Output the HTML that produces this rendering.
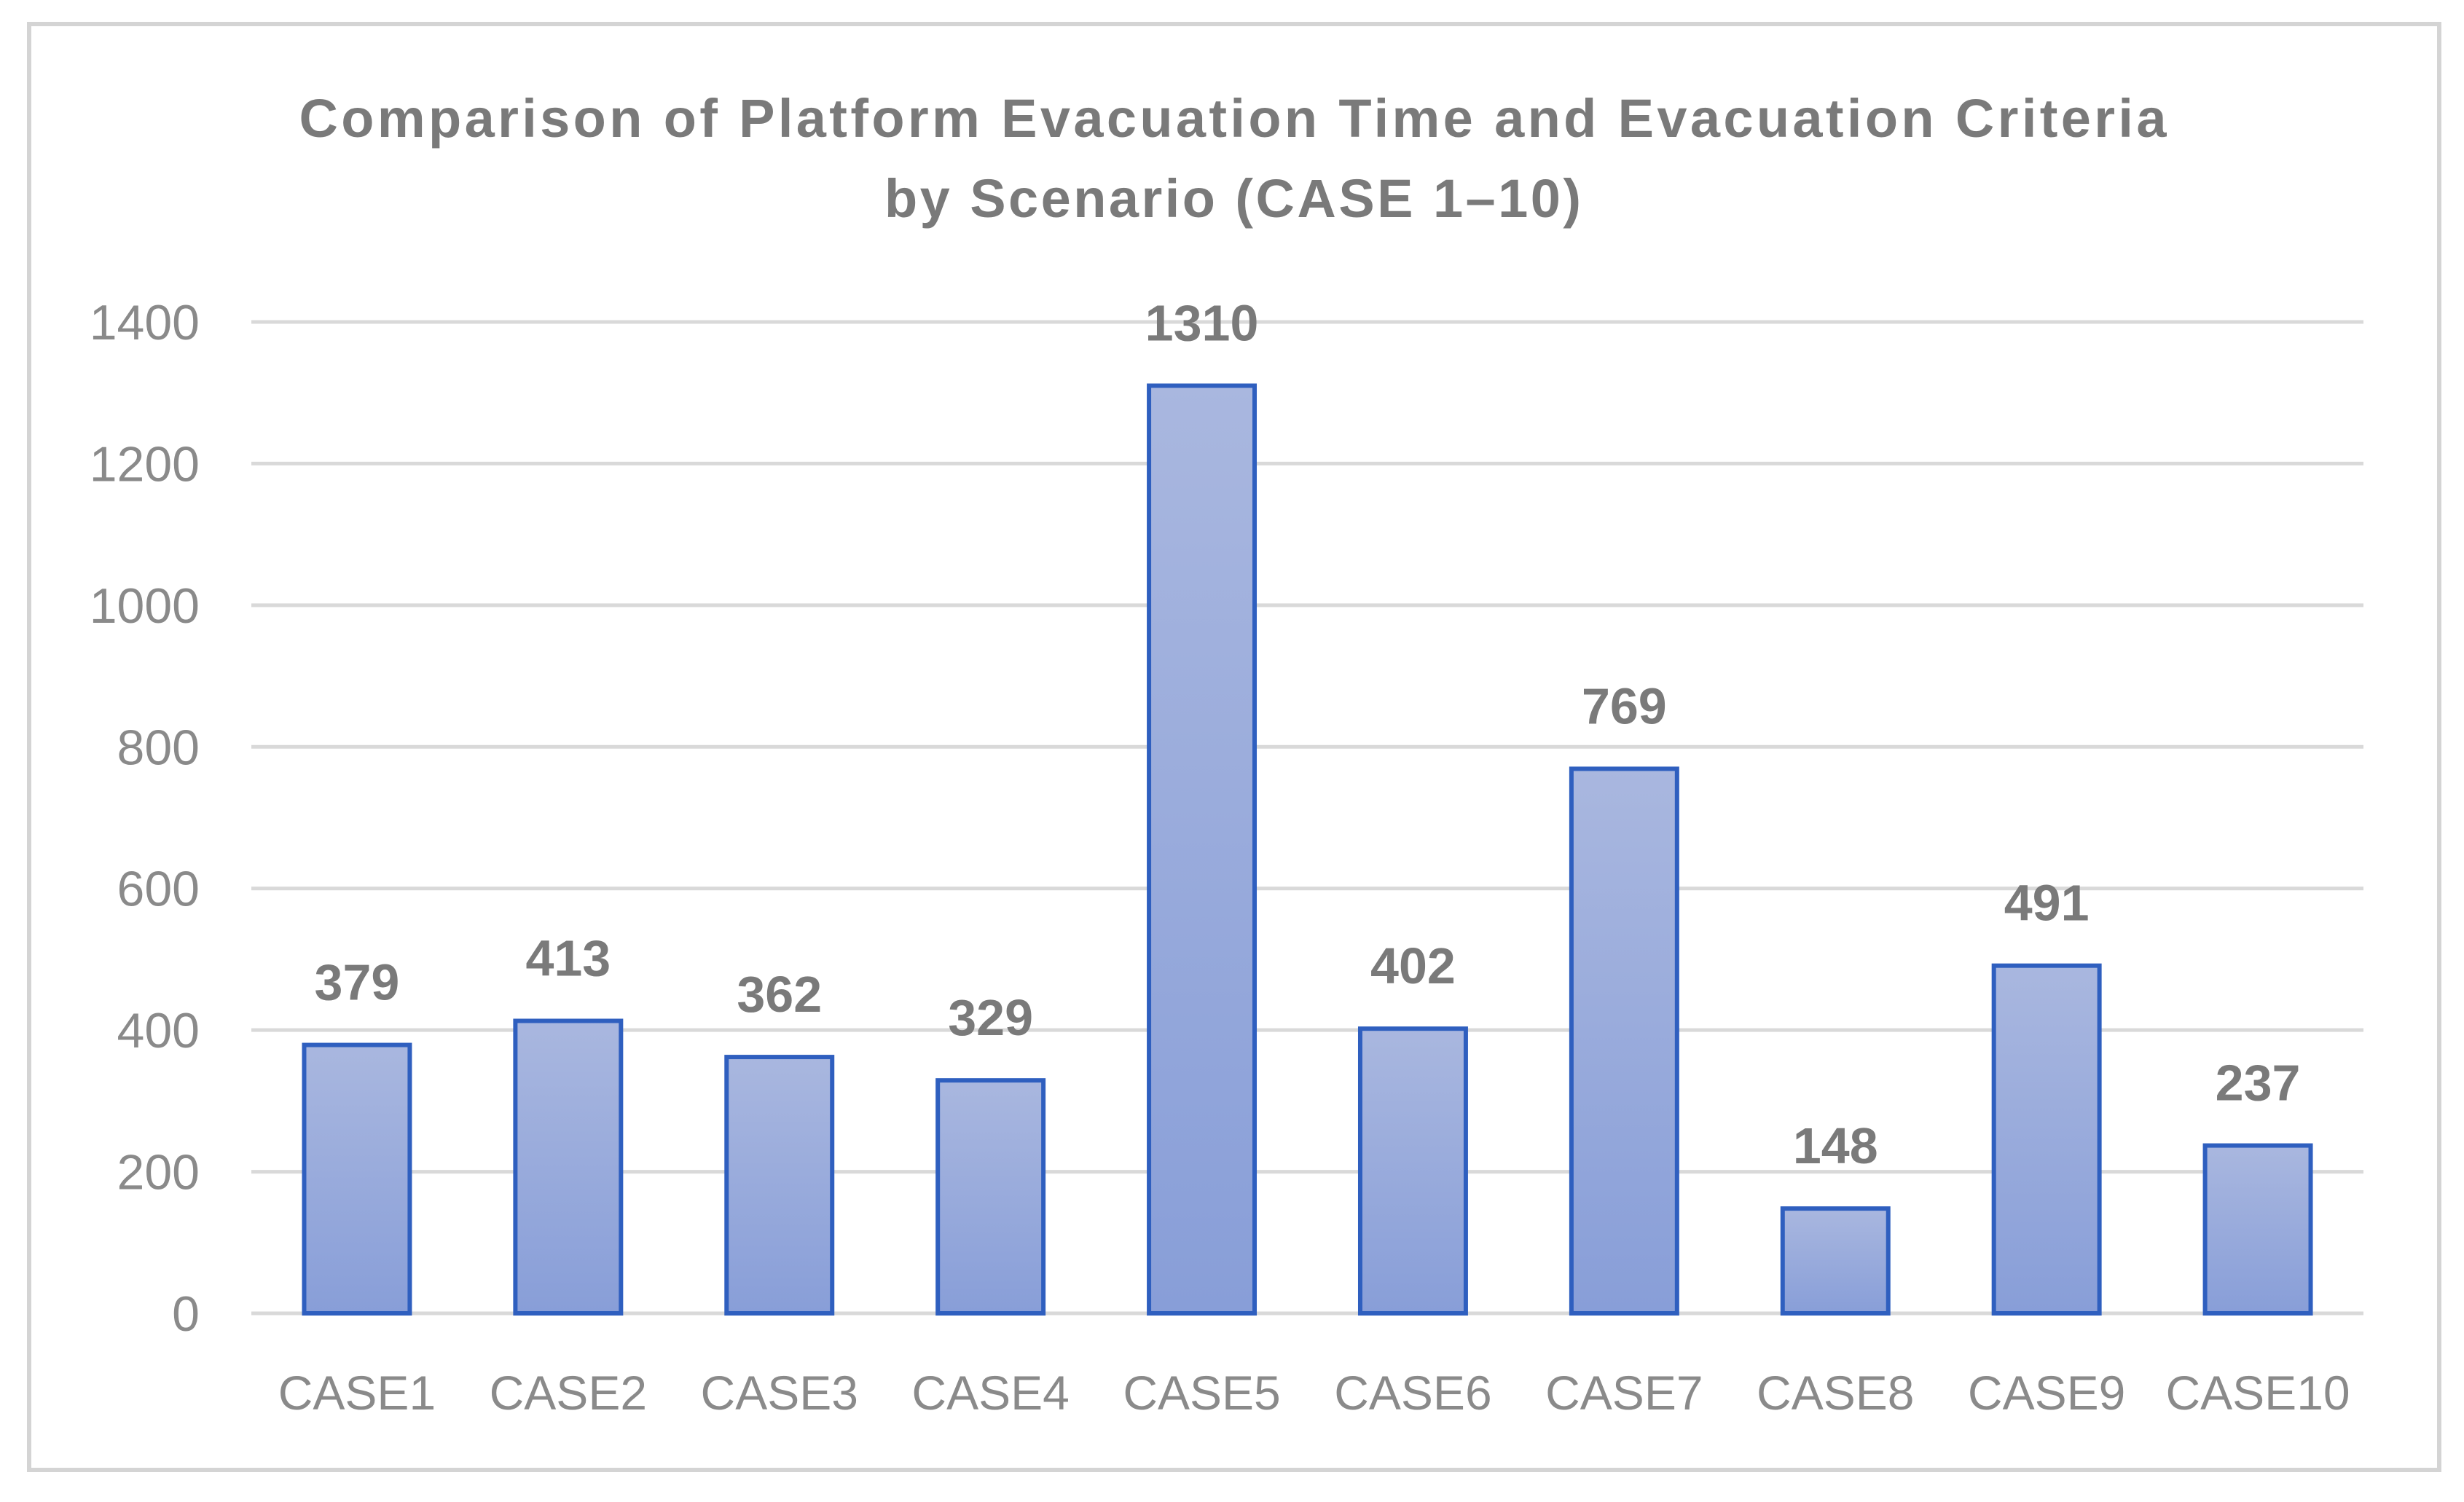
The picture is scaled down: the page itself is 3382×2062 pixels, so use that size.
<!DOCTYPE html>
<html><head><meta charset="utf-8"><style>
html,body{margin:0;padding:0;background:#fff;}
svg{display:block;font-family:"Liberation Sans",sans-serif;}
</style></head><body>
<svg id="chart" width="3382" height="2062" viewBox="0 0 3382 2062" xmlns="http://www.w3.org/2000/svg">
<defs><linearGradient id="g" x1="0" y1="0" x2="0" y2="1"><stop offset="0" stop-color="#a9b7df"/><stop offset="1" stop-color="#889ed8"/></linearGradient></defs>
<rect x="40" y="33" width="3308" height="1985" fill="#fff" stroke="#d4d4d4" stroke-width="6"/>
<text x="1692" y="188" text-anchor="middle" font-size="74" font-weight="bold" fill="#7a7a7a" textLength="2563" lengthAdjust="spacing">Comparison  of Platform  Evacuation  Time and Evacuation  Criteria</text>
<text x="1692" y="298" text-anchor="middle" font-size="74" font-weight="bold" fill="#7a7a7a" textLength="956" lengthAdjust="spacing">by Scenario  (CASE 1–10)</text>
<g id="grid"></g><g id="bars"></g><g id="labels"></g>
</svg>
<script>
const categories=["CASE1","CASE2","CASE3","CASE4","CASE5","CASE6","CASE7","CASE8","CASE9","CASE10"];
const values=[379,413,362,329,1310,402,769,148,491,237];
const yTicks=[0,200,400,600,800,1000,1200,1400];
const NS="http://www.w3.org/2000/svg";
const L=345,R=3244,T=442,B=1803,yMax=1400;
const y=v=>B-(v/yMax)*(B-T);
const band=(R-L)/categories.length;
const x=i=>L+band*(i+0.5);
function mk(t,a,p){const e=document.createElementNS(NS,t);for(const k in a)e.setAttribute(k,a[k]);p.appendChild(e);return e;}
const grid=document.getElementById('grid'),bars=document.getElementById('bars'),labels=document.getElementById('labels');
yTicks.forEach(v=>{
 const l=mk('line',{x1:L,x2:R,y1:y(v),y2:y(v),stroke:'#d9d9d9','stroke-width':5},grid);
 
 
 const t=mk('text',{x:274,y:y(v)+24,'text-anchor':'end','font-size':68,fill:'#8a8a8a'},grid);
 t.textContent=v;
 
 
});
const bw=band*0.5;
categories.forEach((c,i)=>{
 const v=values[i];
 const r=mk('rect',{x:x(i)-bw/2,y:y(v),width:bw,height:B-y(v),fill:'url(#g)',stroke:'#2f5fbf','stroke-width':6},bars);
 
 
 const d=mk('text',{x:x(i),y:y(v)-62,'text-anchor':'middle','font-size':70,'font-weight':'bold',fill:'#7a7a7a'},labels);
 d.textContent=v;
 
 
 const t=mk('text',{x:x(i),y:1935,'text-anchor':'middle','font-size':66,fill:'#8a8a8a'},labels);
 t.textContent=c;
 
 
});
</script>
</body></html>
